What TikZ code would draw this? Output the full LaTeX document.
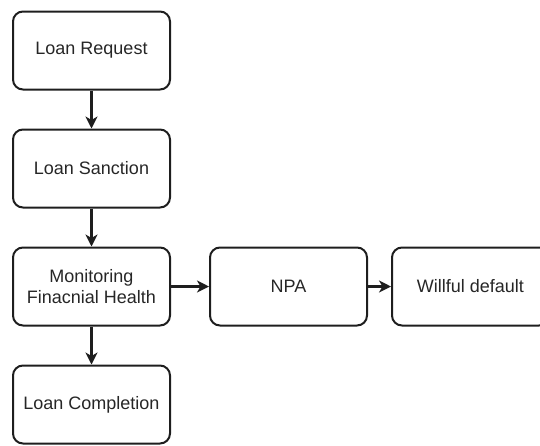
\documentclass[tikz,border=0pt]{standalone}
\usepackage{fontspec}
\setmainfont{Liberation Sans}
\usetikzlibrary{positioning,arrows.meta}
\definecolor{boxC}{RGB}{30,30,30}

\begin{document}
\begin{tikzpicture}[x=1pt,y=1pt,
  stagebox/.style={draw=boxC,line width=2pt,rounded corners=10pt,minimum width=157pt,minimum height=78pt,
    align=center,font=\fontsize{18}{21.5}\selectfont,text=black!85,inner sep=2pt},
  flow/.style={draw=boxC,line width=2.2pt,-{Stealth[length=12pt,width=12pt,inset=3.5pt]}},
  node distance=38pt and 38pt]
% page frame (boxes on the right and bottom are cut by it)
\useasboundingbox (0,0) rectangle (540,-445);
\clip (0,0) rectangle (540,-445);
% main column
\node[stagebox] (request) at (91.5,-50.5) {Loan Request};
\node[stagebox,below=of request] (sanction) {Loan Sanction};
\node[stagebox,below=of sanction] (monitor) {Monitoring\\Finacnial Health};
\node[stagebox,below=of monitor] (complete) {Loan Completion};
% side branch
\node[stagebox,right=of monitor] (npa) {NPA};
\node[stagebox,right=23pt of npa] (willful) {Willful default};
% arrows
\draw[flow] (request) -- (sanction);
\draw[flow] (sanction) -- (monitor);
\draw[flow] (monitor) -- (complete);
\draw[flow] (monitor) -- (npa);
\draw[flow] (npa) -- (willful);
\end{tikzpicture}
\end{document}
